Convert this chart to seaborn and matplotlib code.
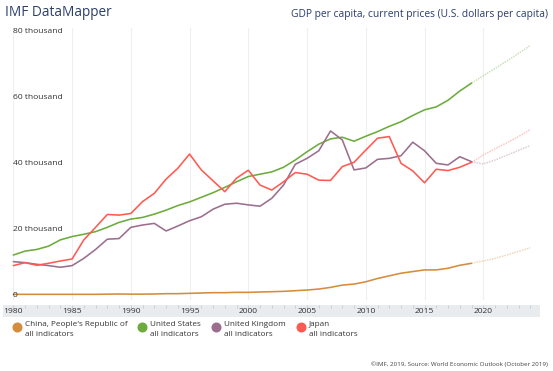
import numpy as np
import pandas as pd
import matplotlib
matplotlib.use("Agg")
from matplotlib import pyplot as plt
from matplotlib.lines import Line2D
import seaborn as sns

# GDP per capita, thousands of U.S. dollars
years = list(range(1980, 2020))
forecast_years = list(range(2019, 2025))

china = [0.3, 0.3, 0.3, 0.3, 0.3, 0.3, 0.3, 0.3, 0.35, 0.4,
         0.35, 0.35, 0.4, 0.5, 0.5, 0.6, 0.7, 0.8, 0.8, 0.9,
         0.9, 1.0, 1.1, 1.2, 1.4, 1.6, 1.9, 2.4, 3.1, 3.4,
         4.1, 5.1, 5.9, 6.7, 7.2, 7.7, 7.7, 8.2, 9.1, 9.7]
china_fc = [9.7, 10.4, 11.2, 12.2, 13.3, 14.4]

usa = [12.2, 13.4, 13.9, 14.9, 16.8, 17.8, 18.5, 19.3, 20.6, 22.1,
       23.1, 23.6, 24.6, 25.8, 27.2, 28.3, 29.7, 31.1, 32.7, 34.4,
       36.0, 36.7, 37.4, 38.8, 41.0, 43.5, 45.8, 47.4, 47.9, 46.7,
       48.2, 49.6, 51.2, 52.6, 54.5, 56.2, 57.1, 59.1, 61.9, 64.3]
usa_fc = [64.3, 66.5, 68.7, 71.0, 73.3, 75.7]

uk = [10.2, 9.9, 9.4, 9.0, 8.5, 9.0, 11.2, 13.9, 17.0, 17.2,
      20.6, 21.3, 21.8, 19.5, 21.0, 22.6, 23.8, 26.1, 27.6, 27.9,
      27.4, 27.0, 29.4, 33.4, 39.7, 41.5, 43.8, 49.8, 47.1, 38.0,
      38.6, 41.2, 41.5, 42.3, 46.4, 43.8, 40.0, 39.5, 42.0, 40.5]
uk_fc = [40.5, 39.8, 41.0, 42.4, 43.9, 45.4]

japan = [9.0, 9.9, 9.1, 9.7, 10.4, 11.0, 16.8, 20.6, 24.5, 24.3,
         24.8, 28.4, 30.9, 35.2, 38.5, 42.8, 38.0, 34.7, 31.4, 35.5,
         37.9, 33.4, 31.9, 34.4, 37.2, 36.7, 34.9, 34.8, 39.0, 40.3,
         44.0, 47.6, 48.1, 40.0, 37.7, 34.1, 38.2, 37.8, 38.8, 40.3]
japan_fc = [40.3, 42.5, 44.4, 46.2, 48.1, 50.2]

countries = ["China, People's Republic of", "United States",
             "United Kingdom", "Japan"]
colors = ["#d58c3d", "#6cab3c", "#9c6e8e", "#ff5a52"]
y_ticks = [0, 20000, 40000, 60000, 80000]
y_tick_labels = ["0", "20 thousand", "40 thousand", "60 thousand", "80 thousand"]
x_ticks = [1980, 1985, 1990, 1995, 2000, 2005, 2010, 2015, 2020]

actual = pd.DataFrame({
    "year": years * 4,
    "value": np.array(china + usa + uk + japan) * 1000,
    "country": np.repeat(countries, len(years)),
})
future = pd.DataFrame({
    "year": forecast_years * 4,
    "value": np.array(china_fc + usa_fc + uk_fc + japan_fc) * 1000,
    "country": np.repeat(countries, len(forecast_years)),
})
palette = dict(zip(countries, colors))

sns.set_style("white")
plt.rcParams["font.family"] = ["Open Sans", "DejaVu Sans"]

W, H = 553, 371
fig = plt.figure(figsize=(W / 100, H / 100), dpi=100)
fig.patch.set_facecolor("white")

# plot area in pixel terms: x 3..540, y 28..300
ax = fig.add_axes([3 / W, 1 - 300 / H, 537 / W, 272 / H])
xlim = (1979.12, 2024.83)
ax.set_xlim(*xlim)
ax.set_ylim(-1420, 81000)
for s in ax.spines.values():
    s.set_visible(False)
ax.set_xticks([])
ax.set_yticks([])

for xt in x_ticks:
    ax.axvline(xt, color="#efefef", lw=0.8, zorder=0)

sns.lineplot(data=actual, x="year", y="value", hue="country", palette=palette,
             lw=1.15, legend=False, ax=ax, zorder=3)
sns.lineplot(data=future, x="year", y="value", hue="country", palette=palette,
             lw=1.1, alpha=0.35, linestyle=(0, (1, 0.7)), legend=False,
             ax=ax, zorder=2)
ax.set_xlabel("")
ax.set_ylabel("")

for val, lab in zip(y_ticks, y_tick_labels):
    ax.text(1979.95, val, lab, fontsize=6.1, color="#333333",
            ha="left", va="center", zorder=5)

# gray x-axis band with year labels
band = fig.add_axes([3 / W, 1 - 317 / H, 537 / W, 12 / H])
band.set_facecolor("#e9ecef")
band.set_xlim(*xlim)
band.set_ylim(0, 1)
for s in band.spines.values():
    s.set_visible(False)
band.set_xticks([])
band.set_yticks([])
band.vlines(list(range(1980, 2025)), 0.78, 1.0, color="#c5cacf", lw=0.6)
for xt in x_ticks:
    band.text(xt, 0.42, str(xt), fontsize=6.1, color="#333333",
              ha="center", va="center")

# titles
fig.text(5 / W, 1 - 13 / H, "IMF DataMapper", fontsize=9.8,
         color="#2b3d6b", ha="left", va="center")
fig.text(548 / W, 1 - 14 / H,
         "GDP per capita, current prices (U.S. dollars per capita)",
         fontsize=7.4, color="#2b3d6b", ha="right", va="center")

# legend, drawn by hand so the dot lines up with the first text line
legend_dot_x = [17.3, 141.7, 215.7, 300.7]
for name, col, px in zip(countries, colors, legend_dot_x):
    fig.add_artist(Line2D([px / W], [1 - 327.3 / H], marker="o", ls="",
                          color=col, markersize=6.2,
                          transform=fig.transFigure))
    fig.text((px + 8) / W, 1 - 321.5 / H, name + "\nall indicators",
             fontsize=5.9, color="#333333", ha="left", va="top",
             linespacing=1.4)

fig.text(548 / W, 1 - 364 / H,
         "\u00a9IMF, 2019, Source: World Economic Outlook (October 2019)",
         fontsize=4.5, color="#444444", ha="right", va="center")

fig.savefig("out.png", dpi=100)
